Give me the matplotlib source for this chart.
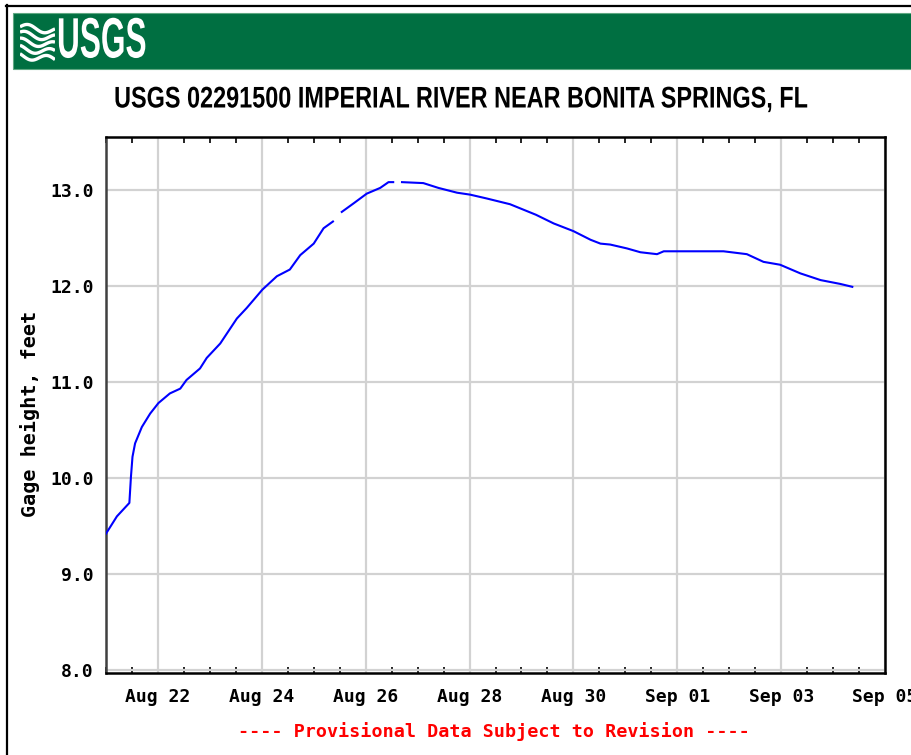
import datetime as dt
import numpy as np
import matplotlib
matplotlib.use("Agg")
import matplotlib.pyplot as plt
import matplotlib.dates as mdates
from matplotlib import font_manager as fm
from matplotlib.lines import Line2D
from matplotlib.patches import Rectangle
from matplotlib.patheffects import AbstractPathEffect
from matplotlib.transforms import Affine2D

# ---------------- data ----------------
start_date = dt.datetime(2017, 8, 21, 0, 0)
# time offsets (days after Aug 21 00:00); None marks a gap in the record
day_offsets = [0.00, 0.21, 0.45, 0.48, 0.51, 0.56, 0.69, 0.85, 1.01, 1.23, 1.43, 1.55,
               1.81, 1.94, 2.20, 2.52, 2.71, 3.01, 3.29, 3.54, 3.74, 3.87, 4.00, 4.19, 4.37,
               None,
               4.54, 4.77, 5.02, 5.28, 5.44, 5.53,
               None,
               5.70, 6.11, 6.40, 6.76, 7.01, 7.33, 7.78, 8.28, 8.62, 9.00, 9.33, 9.52,
               9.71, 10.03, 10.29, 10.61, 10.74, 11.89, 12.34, 12.66, 12.98, 13.37,
               13.76, 14.14, 14.37]
gage_height = [9.42, 9.60, 9.74, 10.01, 10.22, 10.36, 10.53, 10.67, 10.78, 10.88, 10.93, 11.02,
               11.14, 11.25, 11.40, 11.66, 11.77, 11.96, 12.10, 12.17, 12.32, 12.38, 12.44, 12.60, 12.67,
               None,
               12.77, 12.86, 12.96, 13.02, 13.08, 13.08,
               None,
               13.08, 13.07, 13.02, 12.97, 12.95, 12.91, 12.85, 12.74, 12.65, 12.57, 12.48, 12.44,
               12.43, 12.39, 12.35, 12.33, 12.36, 12.36, 12.33, 12.25, 12.22, 12.13,
               12.06, 12.02, 11.99]

xtick_dates = ["2017-08-22", "2017-08-24", "2017-08-26", "2017-08-28",
               "2017-08-30", "2017-09-01", "2017-09-03", "2017-09-05"]
xtick_labels = ["Aug 22", "Aug 24", "Aug 26", "Aug 28", "Aug 30", "Sep 01", "Sep 03", "Sep 05"]
ytick_values = [8.0, 9.0, 10.0, 11.0, 12.0, 13.0]
ytick_labels = ["8.0", "9.0", "10.0", "11.0", "12.0", "13.0"]

title_text = "USGS 02291500 IMPERIAL RIVER NEAR BONITA SPRINGS, FL"
ylabel_text = "Gage height, feet"
footer_text = "---- Provisional Data Subject to Revision ----"

# ---------------- fonts ----------------
def has_font(name):
    try:
        fm.findfont(fm.FontProperties(family=name), fallback_to_default=False)
        return True
    except Exception:
        return False

narrow = "Liberation Sans Narrow" if has_font("Liberation Sans Narrow") else "Liberation Sans"
mono = "DejaVu Sans Mono"


class HSqueeze(AbstractPathEffect):
    """Horizontally condense text about a fixed display x (emulates a narrow face)."""
    def __init__(self, sx, cx):
        super().__init__()
        self.sx = sx
        self.cx = cx

    def draw_path(self, renderer, gc, tpath, affine, rgbFace=None):
        t = affine + Affine2D().translate(-self.cx, 0).scale(self.sx, 1).translate(self.cx, 0)
        renderer.draw_path(gc, tpath, t, rgbFace)


# ---------------- figure ----------------
W, H = 912, 755
fig = plt.figure(figsize=(W / 100, H / 100), dpi=100)
fig.patch.set_facecolor("white")

def fx(px):
    return px / W

def fy(py):
    return 1 - py / H

# outer frame lines (left and top)
fig.add_artist(Line2D([fx(7), fx(7)], [fy(5), fy(760)], color="black", lw=1.6))
fig.add_artist(Line2D([fx(6), fx(915)], [fy(6), fy(6)], color="black", lw=1.6))

# green banner
banner = Rectangle((fx(13), fy(69)), fx(915) - fx(13), fy(13) - fy(69),
                   facecolor="#006F41", edgecolor="#5fa882", lw=0.8, zorder=0.5)
fig.add_artist(banner)

# wave logo
lax = fig.add_axes([fx(20), fy(62), fx(55) - fx(20), fy(22) - fy(62)])
lax.set_zorder(3)
lax.set_xlim(0, 1)
lax.set_ylim(0, 1)
lax.axis("off")
t = np.linspace(0, 1, 100)
for i, base in enumerate([0.88, 0.70, 0.52, 0.34, 0.16]):
    lax.plot(t, base + 0.08 * np.sin(2 * np.pi * (t * 1.1 + 0.1 * i)) - 0.10 * t,
             color="white", lw=2.4, solid_capstyle="butt")

usgs = fig.text(fx(57), fy(42.5), "USGS", color="white", fontsize=41, fontweight="bold",
                family=narrow, ha="left", va="center", zorder=4)
usgs.set_path_effects([HSqueeze(0.555, 57)])

# title
ttl = fig.text(fx(461), fy(99.5), title_text, fontsize=21.5, fontweight="bold",
               family=narrow, ha="center", va="center", color="black")
ttl.set_path_effects([HSqueeze(0.785, 461)])

# ---------------- axes ----------------
ax = fig.add_axes([fx(106), fy(673), fx(885) - fx(106), fy(137) - fy(673)])

times = [start_date + dt.timedelta(days=d) if d is not None else None for d in day_offsets]
xnum = np.array([mdates.date2num(tt) if tt is not None else np.nan for tt in times])
yvals = np.array([v if v is not None else np.nan for v in gage_height], dtype=float)
ax.plot(xnum, yvals, color="#0000FF", lw=1.5, zorder=3)

ax.set_xlim(mdates.date2num(dt.datetime(2017, 8, 21)), mdates.date2num(dt.datetime(2017, 9, 5)))
ax.set_ylim(7.969, 13.55)

xt = [mdates.date2num(dt.datetime.strptime(s, "%Y-%m-%d")) for s in xtick_dates]
ax.set_xticks(xt)
ax.set_xticklabels(xtick_labels)
ax.xaxis.set_minor_locator(mdates.HourLocator(byhour=[0, 12]))
ax.set_yticks(ytick_values)
ax.set_yticklabels(ytick_labels)

ax.grid(True, which="major", color="#d2d2d2", lw=1.6, zorder=0)
ax.set_axisbelow(True)

ax.tick_params(axis="x", which="major", length=0, pad=11)
ax.tick_params(axis="x", which="minor", direction="in", length=4, width=1.2,
               top=True, bottom=True, color="black")
ax.tick_params(axis="y", which="major", length=0, pad=9)
for lab in ax.get_xticklabels() + ax.get_yticklabels():
    lab.set_family(mono)
    lab.set_fontweight("bold")
    lab.set_fontsize(13)

for s in ax.spines.values():
    s.set_color("black")
    s.set_linewidth(1.8)
ax.spines["left"].set_color("#404040")

fig.text(fx(30), fy(414), ylabel_text, rotation=90, family=mono, fontweight="bold",
         fontsize=14.5, ha="center", va="center")

fig.text(fx(494), fy(732), footer_text, family=mono, fontweight="bold",
         fontsize=13.2, ha="center", va="center", color="#FF0000")

fig.savefig("out.png", dpi=100, facecolor="white")
